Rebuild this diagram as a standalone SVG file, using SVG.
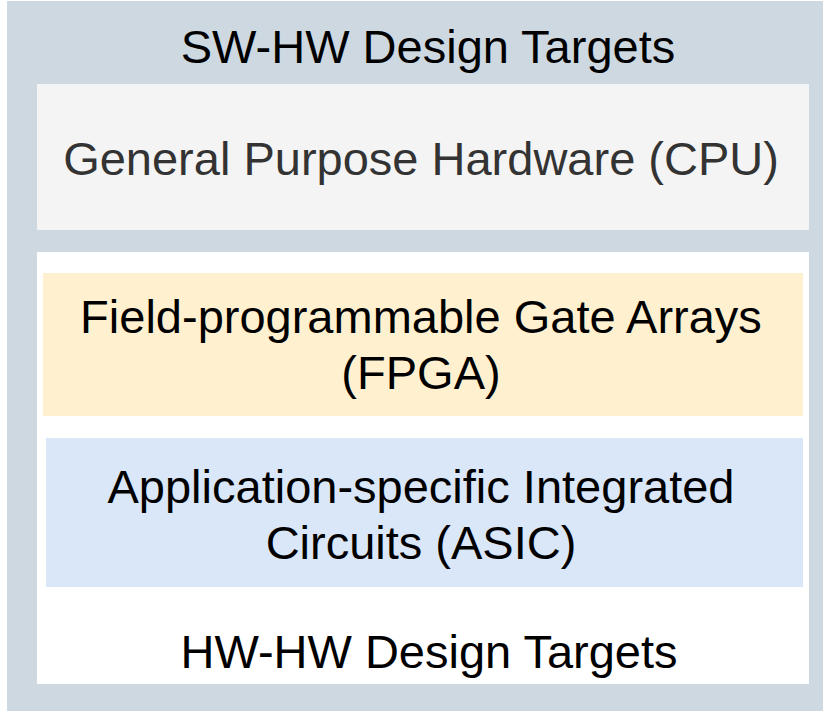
<svg xmlns="http://www.w3.org/2000/svg" width="828" height="711" viewBox="0 0 828 711">
  <style>
    .lbl { font-family: "Liberation Sans", Arial, sans-serif; font-size: 47px; text-anchor: middle; fill: #000; }
    .cpu { fill: #333333; }
  </style>
  <rect width="828" height="711" fill="#ffffff"/>
  <g id="sw-hw">
    <rect x="7" y="1" width="816" height="710" fill="#cdd8e1"/>
    <text class="lbl" x="428" y="63">SW-HW Design Targets</text>
  </g>
  <g id="cpu">
    <rect x="37" y="84" width="772" height="146" fill="#f4f4f4"/>
    <text class="lbl cpu" x="421" y="175">General Purpose Hardware (CPU)</text>
  </g>
  <g id="hw-hw">
    <rect x="37" y="252" width="772" height="432" fill="#ffffff"/>
    <text class="lbl" x="429" y="668">HW-HW Design Targets</text>
  </g>
  <g id="fpga">
    <rect x="43" y="273" width="760" height="143" fill="#fff0cf"/>
    <text class="lbl" x="421" y="333">Field-programmable Gate Arrays</text>
    <text class="lbl" x="421" y="389">(FPGA)</text>
  </g>
  <g id="asic">
    <rect x="46" y="438" width="757" height="149" fill="#dae7f8"/>
    <text class="lbl" x="421" y="503">Application-specific Integrated</text>
    <text class="lbl" x="421" y="559">Circuits (ASIC)</text>
  </g>
  <g id="connectors"/>
</svg>
